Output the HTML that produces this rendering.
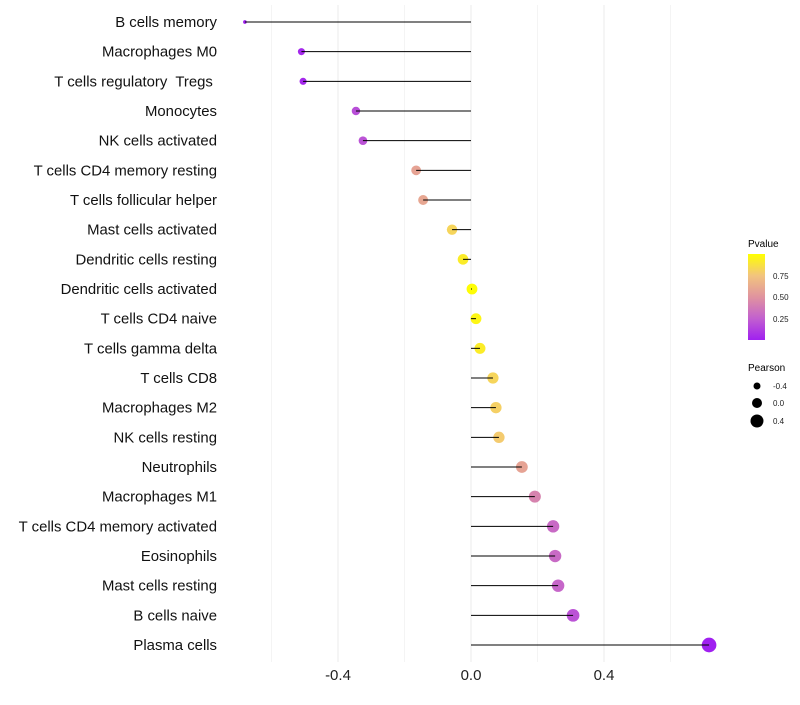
<!DOCTYPE html>
<html><head><meta charset="utf-8"><style>
body{margin:0;background:#fff;font-family:"Liberation Sans",sans-serif}
</style></head><body>
<svg id="c" width="800" height="700" xmlns="http://www.w3.org/2000/svg">
<defs><linearGradient id="pg" x1="0" y1="1" x2="0" y2="0">
<stop offset="0" stop-color="#A020F0"/><stop offset="0.25" stop-color="#C260CF"/><stop offset="0.5" stop-color="#E0939F"/><stop offset="0.75" stop-color="#F2C47E"/><stop offset="1" stop-color="#FFFF00"/></linearGradient></defs>
<g id="grid"></g><g id="dots"></g><g id="stems"></g><g id="labels"></g>
<g>
<text x="748" y="247" font-size="10" fill="#000">Pvalue</text>
<rect x="748" y="254" width="17" height="86" fill="url(#pg)"/>
<text x="773" y="279" font-size="8" fill="#222">0.75</text>
<text x="773" y="300" font-size="8" fill="#222">0.50</text>
<text x="773" y="322" font-size="8" fill="#222">0.25</text>
</g>
<g>
<text x="748" y="371" font-size="10" fill="#000">Pearson</text>
<circle cx="757" cy="386" r="3.5" fill="#000"/><text x="773" y="389" font-size="8" fill="#222">-0.4</text>
<circle cx="757" cy="403" r="5" fill="#000"/><text x="773" y="406" font-size="8" fill="#222">0.0</text>
<circle cx="757" cy="421" r="6.5" fill="#000"/><text x="773" y="424" font-size="8" fill="#222">0.4</text>
</g>
</svg>
<script>
const categories=["B cells memory","Macrophages M0","T cells regulatory  Tregs ","Monocytes","NK cells activated","T cells CD4 memory resting","T cells follicular helper","Mast cells activated","Dendritic cells resting","Dendritic cells activated","T cells CD4 naive","T cells gamma delta","T cells CD8","Macrophages M2","NK cells resting","Neutrophils","Macrophages M1","T cells CD4 memory activated","Eosinophils","Mast cells resting","B cells naive","Plasma cells"];
const pearson=[-0.68,-0.51,-0.505,-0.346,-0.325,-0.165,-0.144,-0.057,-0.024,0.003,0.015,0.027,0.066,0.075,0.084,0.153,0.192,0.247,0.253,0.262,0.307,0.716];
const pvalue=[0.0,0.03,0.03,0.18,0.2,0.58,0.6,0.82,0.92,0.99,0.96,0.92,0.82,0.8,0.78,0.58,0.42,0.3,0.3,0.28,0.2,0.0];
const xTicks=[-0.4,0.0,0.4];
const xMinor=[-0.6,-0.2,0.2,0.6];
const NS="http://www.w3.org/2000/svg";
const x=v=>471+v*332.5;
const y=i=>22+i*29.667;
const sizeStops=[[-0.7,1.5],[-0.5,3.6],[0,5.4],[0.4,6.6],[0.75,7.4]];
function rad(p){for(let k=0;k<sizeStops.length-1;k++){const a=sizeStops[k],b=sizeStops[k+1];if(p<=b[0]){const t=Math.max(0,(p-a[0])/(b[0]-a[0]));return Math.sqrt(a[1]*a[1]+(b[1]*b[1]-a[1]*a[1])*t);}}return 7.4;}
const stops=[[0,[160,32,240]],[0.25,[194,96,207]],[0.5,[224,147,159]],[0.75,[242,196,126]],[1,[255,255,0]]];
function col(p){for(let k=0;k<stops.length-1;k++){const a=stops[k],b=stops[k+1];if(p<=b[0]){const t=(p-a[0])/(b[0]-a[0]);return `rgb(${a[1].map((c,j)=>Math.round(c+(b[1][j]-c)*t)).join(',')})`;}}return 'rgb(255,255,0)';}
function mk(t,at,par){const e=document.createElementNS(NS,t);for(const k in at)e.setAttribute(k,at[k]);par.appendChild(e);return e;}
const G=document.getElementById('grid'),D=document.getElementById('dots'),S=document.getElementById('stems'),L=document.getElementById('labels');
xMinor.forEach(v=>{const l=mk('line',{x1:x(v),x2:x(v),y1:5,y2:662,stroke:'#f2f2f2','stroke-width':0.8},G);

});
xTicks.forEach(v=>{const l=mk('line',{x1:x(v),x2:x(v),y1:5,y2:662,stroke:'#ebebeb','stroke-width':1},G);


const t=mk('text',{x:x(v),y:680,'font-size':15,'text-anchor':'middle',fill:'#222'},L);t.textContent=v.toFixed(1);

});
categories.forEach((c,i)=>{
const d=mk('circle',{cx:x(pearson[i]),cy:y(i),r:rad(pearson[i]),fill:col(pvalue[i])},D);


const s=mk('line',{x1:x(0),x2:x(pearson[i]),y1:y(i),y2:y(i),stroke:'#000','stroke-width':1},S);


const t=mk('text',{x:217,y:y(i)+5,'font-size':14.9,'text-anchor':'end',fill:'#111'},L);t.textContent=c;t.style.whiteSpace='pre';


});
</script>
</body></html>
